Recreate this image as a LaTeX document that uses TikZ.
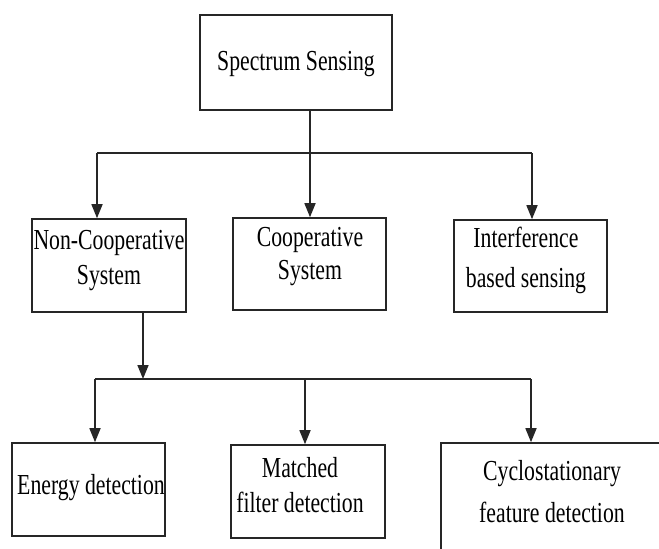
\documentclass[tikz,border=0pt]{standalone}
\usepackage{fontspec}
\setmainfont[FakeStretch=0.75]{Liberation Serif}
\usetikzlibrary{arrows.meta}
\begin{document}
\begin{tikzpicture}[x=1pt,y=-1pt,
  box/.style={draw=black!85,line width=1.6pt,rectangle,inner sep=0pt},
  lbl/.style={align=center,inner sep=0pt,font=\fontsize{29}{36}\selectfont},
  conn/.style={draw=black!85,line width=1.6pt},
  arr/.style={conn,-{Triangle[length=14pt,width=11pt]}}]
\useasboundingbox (0,0) rectangle (659,549);
\clip (0,0) rectangle (659,549);
% boxes
\node[box,minimum width=192pt,minimum height=95pt] (ss) at (296,62.5) {};
\node[box,minimum width=154pt,minimum height=93pt] (nc) at (109,265.5) {};
\node[box,minimum width=153pt,minimum height=92pt] (co) at (309.5,264) {};
\node[box,minimum width=153pt,minimum height=92pt] (ib) at (530.5,266) {};
\node[box,minimum width=153pt,minimum height=93pt] (ed) at (88.5,489.5) {};
\node[box,minimum width=154pt,minimum height=93pt] (mf) at (308,491.5) {};
\node[box,minimum width=222pt,minimum height=196pt] (cy) at (552,541) {};
% texts
\node[lbl] (tss) at (296,64) {Spectrum Sensing};
\node[lbl,font=\fontsize{29}{35}\selectfont] (tnc) at (109,260.5) {Non-Cooperative\\System};
\node[lbl,font=\fontsize{29}{33}\selectfont] (tco) at (310,256.5) {Cooperative\\System};
\node[lbl,font=\fontsize{29}{40}\selectfont] (tib) at (526,260) {Interference\\based sensing};
\node[lbl] (ted) at (91,488) {Energy detection};
\node[lbl,font=\fontsize{29}{35}\selectfont] (tmf) at (300,485.5) {Matched\\filter detection};
\node[lbl,font=\fontsize{29}{42}\selectfont] (tcy) at (552,492) {Cyclostationary\\feature detection};
% junctions
\coordinate (j1) at (310,153);
\coordinate (jl) at (97,153);
\coordinate (jr) at (532,153);
\coordinate (j2) at (143,379);
\coordinate (kl) at (95,379);
\coordinate (km) at (305,379);
\coordinate (kr) at (531,379);
% connectors level 1
\draw[conn] (j1 |- ss.south) -- (j1);
\draw[conn] (jl) -- (jr);
\draw[arr] (jl) -- (jl |- nc.north);
\draw[arr] (j1) -- (j1 |- co.north);
\draw[arr] (jr) -- (jr |- ib.north);
% connectors level 2
\draw[arr] (j2 |- nc.south) -- (j2);
\draw[conn] (kl) -- (kr);
\draw[arr] (kl) -- (kl |- ed.north);
\draw[arr] (km) -- (km |- mf.north);
\draw[arr] (kr) -- (kr |- cy.north);
\end{tikzpicture}
\end{document}
